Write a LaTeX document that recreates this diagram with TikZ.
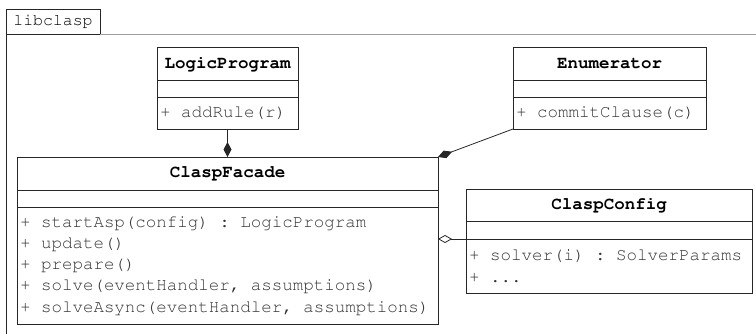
\documentclass[tikz,border=0pt]{standalone}
\usepackage[T1]{fontenc}
\usepackage{tikz}
\usetikzlibrary{positioning, arrows.meta}

\newcommand{\umlfont}{\fontfamily{pcr}\fontsize{17.5pt}{21.2pt}\selectfont\frenchspacing}

\tikzset{
  classname/.style={draw, anchor=north west, inner sep=0pt, outer sep=0pt,
    minimum height=33pt, font=\umlfont\bfseries},
  classattr/.style={draw, inner sep=0pt, outer sep=0pt, minimum height=17pt},
  classops/.style={draw, align=flush left, inner xsep=3pt, inner ysep=0pt, outer sep=0pt,
    font=\umlfont, text=black!80},
  composition/.style={-{Diamond[length=15pt,width=8pt]}},
  aggregation/.style={-{Diamond[open,length=14pt,width=8pt]}},
}

\begin{document}
\begin{tikzpicture}[x=1pt, y=-1pt, line width=0.8pt, draw=black!85]
  \useasboundingbox (0,0) rectangle (756,334);

  % Package frame with its tab
  \node[draw, anchor=north west, minimum width=94pt, minimum height=25pt,
    inner sep=0pt, outer sep=0pt, font=\fontfamily{pcr}\fontsize{16.5pt}{20pt}\selectfont]
    (pkg) at (6,9) {libclasp};
  \coordinate (pkgend) at (756,34);
  \coordinate (pkgfoot) at (6,334);
  \draw[gray!75] (pkg.south east) -- (pkgend);
  \draw (pkg.south west) -- (pkgfoot);

  % LogicProgram
  \node[classname, minimum width=141pt] (lp) at (157,47) {LogicProgram};
  \node[classattr, minimum width=141pt, below=0pt of lp] (lpattr) {};
  \node[classops, text width=135pt, minimum height=32pt, below=0pt of lpattr] (lpops)
    {+ addRule(r)};

  % Enumerator
  \node[classname, minimum width=193pt] (enum) at (513,47) {Enumerator};
  \node[classattr, minimum width=193pt, below=0pt of enum] (enumattr) {};
  \node[classops, text width=187pt, minimum height=32pt, below=0pt of enumattr] (enumops)
    {+ commitClause(c)};

  % ClaspFacade
  \node[classname, minimum width=421pt] (fac) at (17,157) {ClaspFacade};
  \node[classattr, minimum width=421pt, below=0pt of fac] (facattr) {};
  \node[classops, text width=415pt, minimum height=117pt, below=0pt of facattr] (facops)
    {+ startAsp(config) : LogicProgram\\
     + update()\\
     + prepare()\\
     + solve(eventHandler, assumptions)\\
     + solveAsync(eventHandler, assumptions)};

  % ClaspConfig
  \node[classname, minimum width=286pt, minimum height=32pt] (cfg) at (466,189) {ClaspConfig};
  \node[classattr, minimum width=286pt, minimum height=18pt, below=0pt of cfg] (cfgattr) {};
  \node[classops, text width=280pt, minimum height=54pt, below=0pt of cfgattr] (cfgops)
    {+ solver(i) : SolverParams\\
     + ...};

  % Associations
  \draw[composition] (lpops.south) -- (lpops.south |- fac.north);
  \draw[composition] (enumops.south west) -- (fac.north east);
  \draw[aggregation] (cfgops.north west) -- (cfgops.north west -| facops.east);
\end{tikzpicture}
\end{document}
